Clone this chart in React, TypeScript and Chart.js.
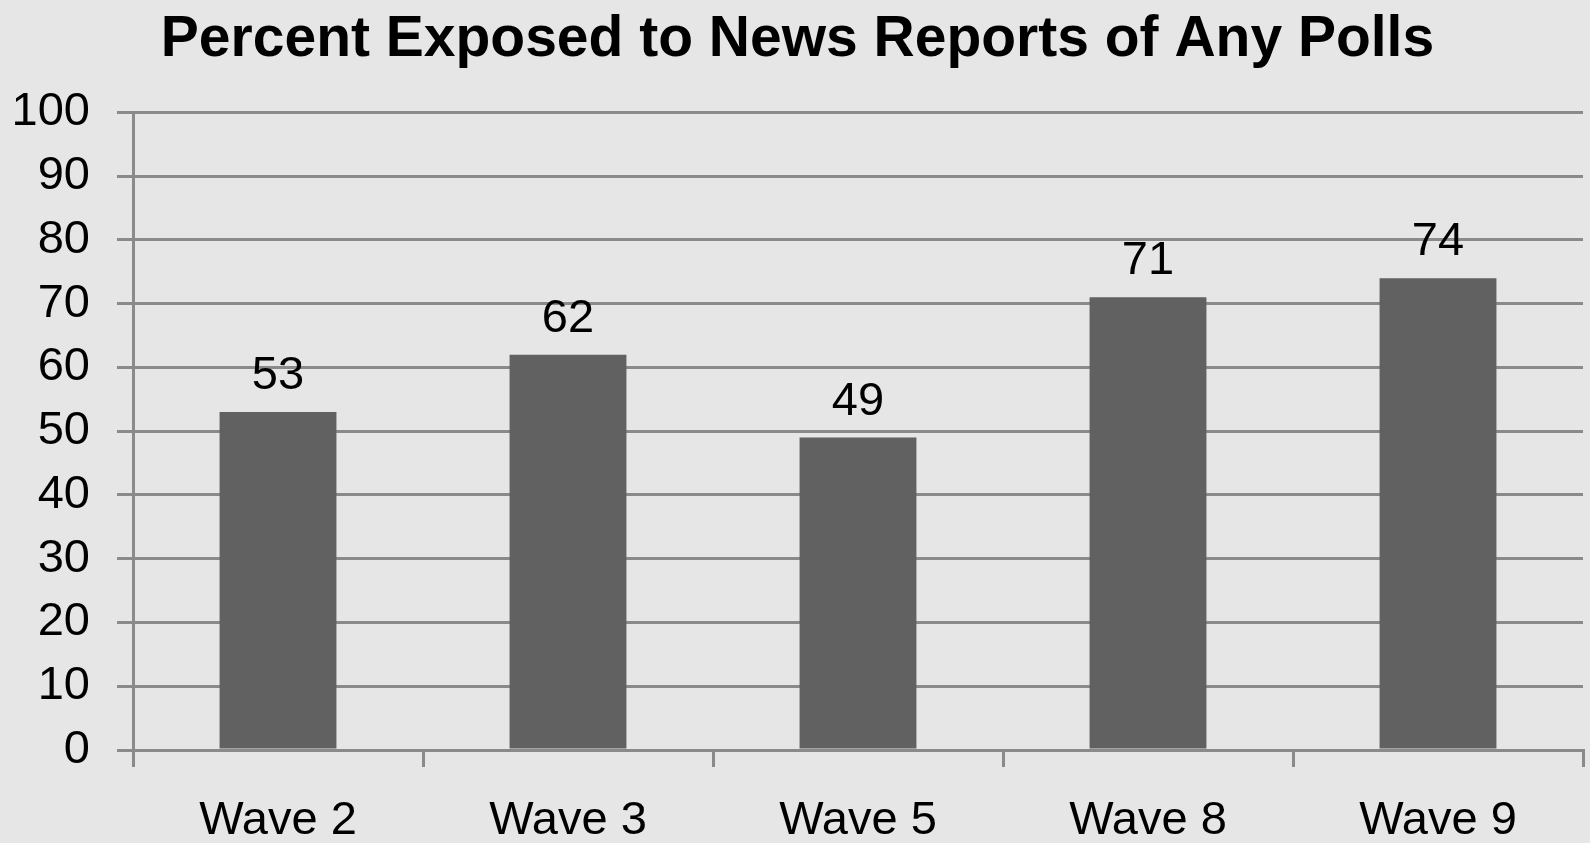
import React, { useEffect, useRef } from "react";
import { Chart, registerables } from "chart.js";

Chart.register(...registerables);

const categories = ["Wave 2", "Wave 3", "Wave 5", "Wave 8", "Wave 9"];
const values = [53, 62, 49, 71, 74];
const titleText = "Percent Exposed to News Reports of Any Polls";

const FONT = "'Liberation Sans', Arial, sans-serif";
const GRID = "#8a8a8a";

const valueLabels = {
  id: "valueLabels",
  afterDatasetsDraw(chart: any) {
    const ctx = chart.ctx;
    const meta = chart.getDatasetMeta(0);
    ctx.save();
    ctx.font = `47px ${FONT}`;
    ctx.fillStyle = "#000";
    ctx.textAlign = "center";
    ctx.textBaseline = "alphabetic";
    meta.data.forEach((bar: any, i: number) => {
      ctx.fillText(String(values[i]), bar.x, bar.y - 23);
    });
    ctx.restore();
  },
};

export default function App() {
  const ref = useRef<HTMLCanvasElement>(null);
  useEffect(() => {
    const chart = new Chart(ref.current!, {
      type: "bar",
      data: {
        labels: categories,
        datasets: [
          {
            data: values,
            backgroundColor: "#616161",
            borderWidth: 0,
            categoryPercentage: 1,
            barPercentage: 0.403,
          },
        ],
      },
      options: {
        animation: false,
        responsive: true,
        maintainAspectRatio: false,
        layout: { padding: { left: 12, right: 7, top: 0, bottom: 0 } },
        plugins: {
          legend: { display: false },
          tooltip: { enabled: false },
          title: {
            display: true,
            text: titleText,
            color: "#000",
            font: { family: FONT, size: 57, weight: "bold", lineHeight: 1.2 },
            padding: { top: 6, bottom: 38 },
          },
        },
        scales: {
          x: {
            grid: {
              display: true,
              drawOnChartArea: false,
              drawTicks: true,
              tickLength: 17,
              color: GRID,
              lineWidth: 3,
            },
            border: { display: true, color: GRID, width: 3 },
            ticks: {
              color: "#000",
              font: { family: FONT, size: 47 },
              padding: 26,
              maxRotation: 0,
            },
            afterFit(scale: any) {
              scale.height = 93;
            },
          },
          y: {
            min: 0,
            max: 100,
            ticks: {
              stepSize: 10,
              color: "#000",
              font: { family: FONT, size: 47 },
              padding: 27,
            },
            grid: {
              color: GRID,
              lineWidth: 3,
              tickLength: 16,
              drawTicks: true,
            },
            border: { display: true, color: GRID, width: 3 },
            afterFit(scale: any) {
              scale.width = 121;
            },
          },
        },
      },
      plugins: [valueLabels],
    });
    return () => chart.destroy();
  }, []);
  return (
    <div
      style={{
        position: "absolute",
        left: 0,
        top: 0,
        width: 1590,
        height: 843,
        background: "#e6e6e6",
      }}
    >
      <canvas ref={ref} />
    </div>
  );
}
